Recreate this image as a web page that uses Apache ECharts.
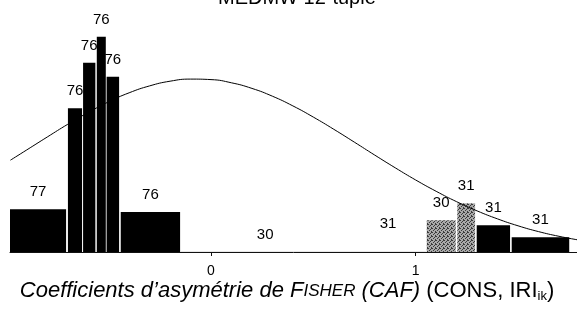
<!DOCTYPE html>
<html>
<head>
<meta charset="utf-8">
<script src="https://cdn.jsdelivr.net/npm/echarts@6/dist/echarts.min.js"></script>
<style>
  html, body { margin: 0; padding: 0; background: #fff; }
  #main { width: 577px; height: 311px; }
</style>
</head>
<body>
<div id="main"></div>
<script>
// histogram bins (CAF values), left / right edge of each bar
var binStart = [-0.982, -0.699, -0.625, -0.558, -0.510, -0.441, -0.151, 0.680, 1.054, 1.203, 1.298, 1.469];
var binEnd   = [-0.708, -0.630, -0.565, -0.514, -0.449, -0.151, 0.680, 1.050, 1.195, 1.290, 1.461, 1.750];
var binHeight = [42.7, 143.7, 189.3, 215.3, 175.3, 40, 0.6, 0.6, 31.7, 48.7, 26.7, 14.7];
var binLabel = [77, 76, 76, 76, 76, 76, 30, 31, 30, 31, 31, 31];
// bars belonging to the 30/31 group drawn grey
var greyBins = [8, 9];
var faintBins = [6, 7];

// fitted curve
var curveX = [-0.98, -0.9, -0.8, -0.7, -0.6, -0.5, -0.4, -0.3, -0.2, -0.1, 0, 0.1, 0.2, 0.3, 0.4, 0.5, 0.6, 0.7, 0.8, 0.9, 1.0, 1.1, 1.2, 1.3, 1.4, 1.5, 1.6, 1.7, 1.79];
var curveY = [91.8, 102.1, 115.0, 127.7, 139.5, 150.2, 159.2, 166.1, 170.8, 172.9, 172.4, 169.2, 163.6, 155.8, 146.1, 134.9, 122.7, 109.9, 96.9, 84.2, 72.0, 60.7, 50.3, 41.1, 33.1, 26.2, 20.4, 15.7, 12.2];

var xTicks = [0, 1];

var chart = echarts.init(document.getElementById('main'), null, { renderer: 'canvas' });

// speckled grey fill
var pat = document.createElement('canvas');
pat.width = 4; pat.height = 4;
var pc = pat.getContext('2d');
pc.fillStyle = '#a8a8a8';
pc.fillRect(0, 0, 4, 4);
pc.fillStyle = '#3a3a3a';
pc.fillRect(0, 0, 1, 1);
pc.fillRect(2, 1, 1, 1);
pc.fillRect(1, 2, 1, 1);
pc.fillRect(3, 3, 1, 1);
pc.fillRect(3, 0, 1, 1);

var labelLift = { 7: 11 };

var barData = binStart.map(function (s, i) {
  return [s, binEnd[i], binHeight[i]];
});
var curveData = curveX.map(function (x, i) {
  return [x, curveY[i]];
});

function renderBar(params, api) {
  var i = params.dataIndex;
  var pTop = api.coord([api.value(0), api.value(2)]);
  var pBot = api.coord([api.value(1), 0]);
  var fill = '#000';
  if (greyBins.indexOf(i) >= 0) fill = { image: pat, repeat: 'repeat' };
  if (faintBins.indexOf(i) >= 0) fill = '#d0d0d0';
  var lift = labelLift[i] || 0;
  return {
    type: 'group',
    children: [{
      type: 'rect',
      shape: { x: pTop[0], y: pTop[1], width: pBot[0] - pTop[0], height: pBot[1] - pTop[1] },
      style: { fill: fill }
    }, {
      type: 'text',
      style: {
        text: String(binLabel[i]),
        x: (pTop[0] + pBot[0]) / 2,
        y: pTop[1] - 17 - lift,
        align: 'center',
        verticalAlign: 'middle',
        fontSize: 15,
        fontFamily: 'Liberation Sans',
        fill: '#000'
      }
    }]
  };
}

var option = {
  backgroundColor: '#fff',
  animation: false,
  title: {
    text: 'MEDMW 12-tuple',
    left: 213,
    top: -17,
    textStyle: { fontSize: 20, fontWeight: 'normal', color: '#000', fontFamily: 'Liberation Sans' }
  },
  // axis title, placed by hand
  graphic: [{
    type: 'text',
    x: 287,
    y: 291,
    style: {
      text: '{i|Coefficients d\u2019asymétrie de }{i|F}{s|ISHER}{i| (CAF) }{n|(CONS, IRI}{sub|ik}{n|)}',
      align: 'center',
      verticalAlign: 'middle',
      rich: {
        i: { fontSize: 22, fontStyle: 'italic', fontFamily: 'Liberation Sans', fill: '#000' },
        s: { fontSize: 17, fontStyle: 'italic', fontFamily: 'Liberation Sans', fill: '#000' },
        n: { fontSize: 22, fontFamily: 'Liberation Sans', fill: '#000' },
        sub: { fontSize: 13, fontFamily: 'Liberation Sans', fill: '#000', padding: [11, 0, 0, 0] }
      }
    }
  }],
  grid: { left: 10, right: 0, top: 0, bottom: 52 },
  xAxis: {
    type: 'value',
    min: -0.982,
    max: 1.788,
    axisLine: { lineStyle: { color: '#111', width: 1 } },
    axisTick: { customValues: xTicks, length: 4, lineStyle: { color: '#111' } },
    axisLabel: { customValues: xTicks, fontSize: 14, color: '#000', fontFamily: 'Liberation Sans', margin: 5 },
    splitLine: { show: false }
  },
  yAxis: {
    type: 'value',
    min: -7,
    max: 252,
    show: false
  },
  series: [{
    type: 'custom',
    renderItem: renderBar,
    data: barData,
    encode: { x: [0, 1], y: 2 },
    z: 2
  }, {
    type: 'line',
    data: curveData,
    smooth: true,
    symbol: 'none',
    lineStyle: { color: '#000', width: 1 },
    z: 3
  }]
};

chart.setOption(option);
</script>
</body>
</html>
